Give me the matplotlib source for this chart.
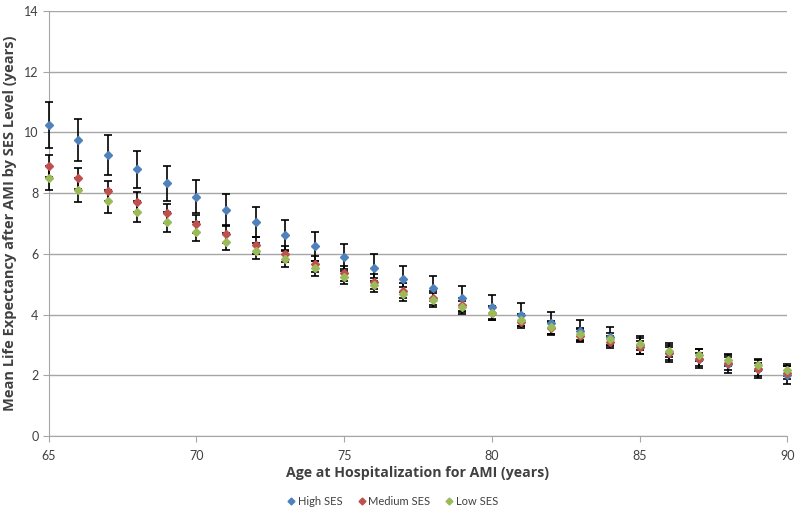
import matplotlib.pyplot as plt
from matplotlib.lines import Line2D

ages = list(range(65, 91))

high_ses = [10.25, 9.75, 9.25, 8.78, 8.32, 7.88, 7.44, 7.05, 6.63, 6.25, 5.88, 5.54, 5.18,
            4.86, 4.54, 4.26, 3.99, 3.73, 3.47, 3.27, 3.00, 2.75, 2.55, 2.38, 2.20, 2.00]
high_err = [0.75, 0.70, 0.66, 0.62, 0.58, 0.55, 0.53, 0.50, 0.50, 0.48, 0.46, 0.44, 0.43,
            0.42, 0.41, 0.39, 0.38, 0.36, 0.34, 0.32, 0.31, 0.30, 0.30, 0.30, 0.30, 0.30]

medium_ses = [8.90, 8.49, 8.08, 7.70, 7.33, 6.98, 6.65, 6.29, 5.99, 5.67, 5.36, 5.08, 4.79,
              4.55, 4.30, 4.05, 3.77, 3.55, 3.30, 3.10, 2.92, 2.72, 2.53, 2.39, 2.20, 2.08]
medium_err = [0.37, 0.35, 0.33, 0.32, 0.31, 0.30, 0.29, 0.28, 0.27, 0.26, 0.25, 0.25, 0.24,
              0.24, 0.23, 0.23, 0.22, 0.22, 0.21, 0.21, 0.21, 0.21, 0.21, 0.21, 0.21, 0.21]

low_ses = [8.49, 8.10, 7.73, 7.39, 7.04, 6.73, 6.40, 6.10, 5.82, 5.53, 5.25, 4.98, 4.68,
           4.48, 4.24, 4.04, 3.82, 3.58, 3.36, 3.20, 3.03, 2.81, 2.66, 2.50, 2.34, 2.17]
low_err = [0.40, 0.39, 0.37, 0.35, 0.33, 0.31, 0.29, 0.27, 0.26, 0.25, 0.24, 0.23, 0.22,
           0.22, 0.21, 0.21, 0.21, 0.21, 0.20, 0.20, 0.20, 0.20, 0.20, 0.20, 0.20, 0.20]

series = [
    ("High SES", high_ses, high_err, "#4F81BD"),
    ("Medium SES", medium_ses, medium_err, "#C0504D"),
    ("Low SES", low_ses, low_err, "#9BBB59"),
]

plt.rcParams['font.family'] = ['Lato', 'DejaVu Sans']

fig = plt.figure(figsize=(8, 5.2), dpi=100)
ax = fig.add_axes([0.061, 0.1615, 0.923, 0.8175])

handles = []
for name, vals, errs, col in series:
    ax.errorbar(ages, vals, yerr=errs, fmt='D', color=col, markersize=4.2,
                ecolor='black', elinewidth=1.2, capsize=3, capthick=1.2,
                zorder=3, clip_on=False)
    handles.append(Line2D([], [], marker='D', color=col, linestyle='none',
                          markersize=3.5, label=name))

ax.set_xlim(65, 90)
ax.set_ylim(0, 14)
ax.set_xticks(range(65, 91, 5))
ax.set_yticks(range(0, 15, 2))
ax.yaxis.grid(True, color='#a6a6a6', linewidth=1)
ax.set_axisbelow(True)
for s in ['top', 'right']:
    ax.spines[s].set_visible(False)
for s in ['left', 'bottom']:
    ax.spines[s].set_color('#a6a6a6')
ax.tick_params(colors='#a6a6a6', labelcolor='#404040', labelsize=9, length=4)
ax.tick_params(axis='x', pad=6)

bold = dict(family=['Open Sans', 'DejaVu Sans'], weight='bold', color='#404040')
ax.set_xlabel("Age at Hospitalization for AMI (years)", fontsize=10.2, labelpad=3, **bold)
ax.set_ylabel("Mean Life Expectancy after AMI by SES Level (years)", fontsize=10.5,
              labelpad=5, **bold)

leg = fig.legend(handles=handles, loc='center', bbox_to_anchor=(0.49, 0.036),
                 ncol=3, frameon=False, fontsize=8, handletextpad=0.1,
                 columnspacing=1.2, handlelength=1.0)
for t in leg.get_texts():
    t.set_color('#404040')

fig.savefig("out.png", dpi=100)
